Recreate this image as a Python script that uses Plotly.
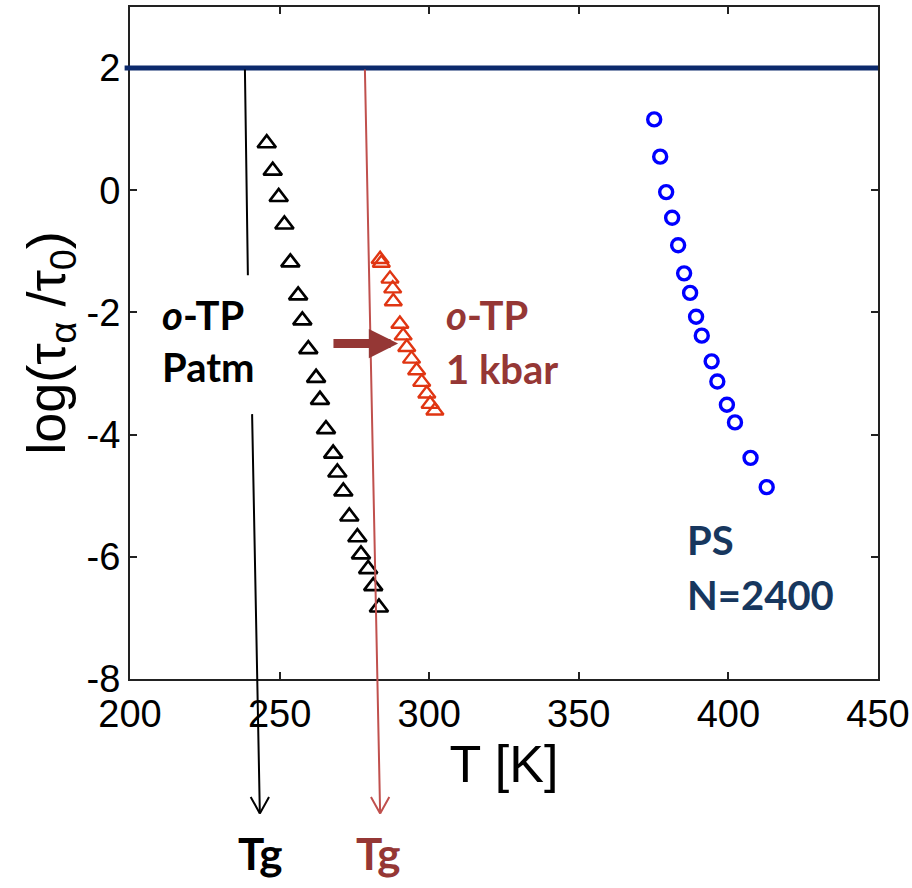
import plotly.graph_objects as go

# ---- data ----
otp_atm_T = [245.7, 247.7, 249.7, 251.6, 253.6, 256.2, 257.6, 259.6, 262.2, 263.5,
             265.5, 267.9, 269.3, 271.3, 273.3, 276.0, 277.2, 279.6, 281.3, 283.2]
otp_atm_log = [0.77, 0.32, -0.11, -0.56, -1.18, -1.72, -2.13, -2.60, -3.07, -3.43,
               -3.91, -4.31, -4.62, -4.93, -5.34, -5.68, -5.96, -6.20, -6.48, -6.83]

otp_1kbar_T = [283.6, 284.0, 286.9, 287.8, 288.0, 290.2, 291.3, 292.5, 294.1, 295.8,
               297.5, 299.2, 300.3, 301.9]
otp_1kbar_log = [-1.13, -1.19, -1.45, -1.61, -1.82, -2.19, -2.38, -2.57, -2.76, -2.95,
                 -3.14, -3.33, -3.50, -3.61]

ps_T = [375.2, 377.2, 379.2, 381.2, 383.2, 385.2, 387.2, 389.2, 391.1, 394.4,
        396.3, 399.5, 402.2, 407.4, 412.8]
ps_log = [1.16, 0.55, -0.03, -0.45, -0.90, -1.36, -1.68, -2.07, -2.38, -2.80,
          -3.13, -3.51, -3.80, -4.38, -4.86]

x_ticks = [200, 250, 300, 350, 400, 450]
y_ticks = [-8, -6, -4, -2, 0, 2]
x_range = [200, 450]
y_range = [-8, 3]
glass_level = 2  # log(tau/tau0) at Tg

BLACK = "#000000"
RED_PTS = "#e03512"
BROWN = "#953735"
RED_LINE = "#c0504d"
NAVY = "#17375e"
NAVY_LINE = "#0c2a6c"
BLUE = "#0000ff"


def xp(v):
    return (v - x_range[0]) / (x_range[1] - x_range[0])


def yp(v):
    return (v - y_range[0]) / (y_range[1] - y_range[0])


fig = go.Figure()
fig.add_trace(go.Scatter(x=otp_atm_T, y=otp_atm_log, mode="markers",
                         marker=dict(symbol="triangle-up-open", size=16, color=BLACK,
                                     line=dict(width=2.7, color=BLACK)),
                         showlegend=False))
fig.add_trace(go.Scatter(x=otp_1kbar_T, y=otp_1kbar_log, mode="markers",
                         marker=dict(symbol="triangle-up-open", size=15, color=RED_PTS,
                                     line=dict(width=2.4, color=RED_PTS)),
                         showlegend=False))
fig.add_trace(go.Scatter(x=ps_T, y=ps_log, mode="markers",
                         marker=dict(symbol="circle-open", size=13, color=BLUE,
                                     line=dict(width=3.4, color=BLUE)),
                         showlegend=False))

ann = []
# horizontal line at log = 2
ann.append(dict(x=450, y=glass_level, ax=197.7, ay=glass_level, xref="x", yref="y",
                axref="x", ayref="y", showarrow=True, arrowhead=0, arrowwidth=5,
                arrowcolor=NAVY_LINE, text=""))
# black vertical line (upper part)
ann.append(dict(x=239.4, y=-1.39, ax=238.4, ay=glass_level, xref="x", yref="y",
                axref="x", ayref="y", showarrow=True, arrowhead=0, arrowwidth=2,
                arrowcolor=BLACK, text=""))
# black vertical line (lower part)
ann.append(dict(x=243.4, y=-10.2, ax=240.8, ay=-3.64, xref="x", yref="y",
                axref="x", ayref="y", showarrow=True, arrowhead=0, arrowwidth=2,
                arrowcolor=BLACK, text=""))
# red vertical line
ann.append(dict(x=283.6, y=-10.2, ax=278.5, ay=glass_level, xref="x", yref="y",
                axref="x", ayref="y", showarrow=True, arrowhead=0, arrowwidth=2,
                arrowcolor=RED_LINE, text=""))
# open V arrowheads (paper coords since they lie below the axis)
for tipx, col in [(243.4, BLACK), (283.6, RED_LINE)]:
    for dx in (-10, 10):
        ann.append(dict(x=xp(tipx), y=yp(-10.2), ax=dx, ay=-18, xref="paper",
                        yref="paper", showarrow=True, arrowhead=0, arrowwidth=2,
                        arrowcolor=col, text=""))
# thick brown arrow
ann.append(dict(x=289.6, y=-2.51, ax=267.5, ay=-2.51, xref="x", yref="y",
                axref="x", ayref="y", showarrow=True, arrowhead=2, arrowsize=0.65,
                arrowwidth=9, arrowcolor=BROWN, text=""))

LAB = "Lato"


def txt(x, y, s, color, size=40):
    ann.append(dict(x=xp(x), y=yp(y), xref="paper", yref="paper", text=s,
                    showarrow=False, xanchor="left", yanchor="middle",
                    font=dict(family=LAB, size=size, color=color)))


txt(210.0, -2.04, "<b><i>o</i>-TP</b>", BLACK)
txt(210.0, -2.90, "<b>Patm</b>", BLACK)
txt(304.8, -2.04, "<b><i>o</i>-TP</b>", BROWN)
txt(304.8, -2.92, "<b>1 kbar</b>", BROWN)
txt(385.5, -5.72, "<b>PS</b>", NAVY)
txt(385.5, -6.63, "<b>N=2400</b>", NAVY)
txt(235.4, -10.85, "<b>Tg</b>", BLACK, size=44)
txt(275.0, -10.85, "<b>Tg</b>", BROWN, size=44)

fig.update_layout(
    width=912, height=888,
    margin=dict(l=130, r=34, t=7, b=209, autoexpand=False),
    paper_bgcolor="white", plot_bgcolor="white",
    annotations=ann,
    font=dict(family="Liberation Sans", color="black"),
)
fig.update_xaxes(range=x_range, tickvals=x_ticks, ticktext=[str(v) for v in x_ticks],
                 ticks="inside", ticklen=7, automargin=False,
                 tickwidth=1.5, tickcolor="#222", showgrid=False, zeroline=False,
                 showline=True, linecolor="#222", linewidth=2, mirror="ticks",
                 tickfont=dict(size=38, family="Liberation Sans", color="black"),
                 title=dict(text="T [K]", font=dict(size=52, family="Liberation Sans"),
                            standoff=0))
fig.update_yaxes(range=y_range, tickvals=y_ticks, ticktext=[str(v) for v in y_ticks],
                 ticks="inside", ticklen=7, automargin=False,
                 tickwidth=1.5, tickcolor="#222", showgrid=False, zeroline=False,
                 showline=True, linecolor="#222", linewidth=2, mirror="ticks",
                 tickfont=dict(size=38, family="Liberation Sans", color="black"),
                 title=dict(text="log(τ<sub>α</sub> /τ<sub>0</sub>)",
                            font=dict(size=54, family="Liberation Sans"), standoff=4))

fig.write_html("out.html", config={"displayModeBar": False},
               post_script="document.body.style.margin='0';"
                           "document.body.style.overflow='hidden';")
